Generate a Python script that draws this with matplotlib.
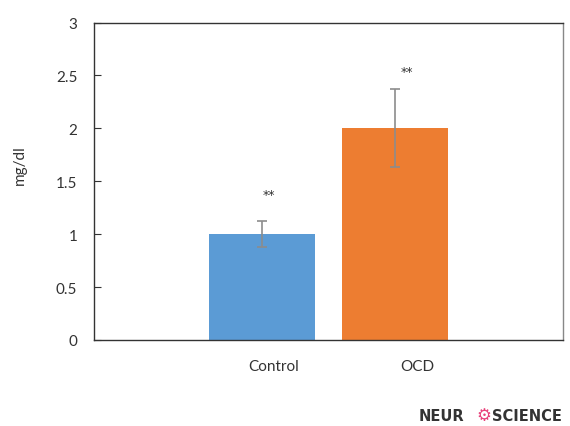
import matplotlib.pyplot as plt

groups = ['Control', 'OCD']
means = [1.0, 2.0]
errors = [0.12, 0.37]
stars = ['**', '**']
star_heights = [1.41, 2.57]
colors = ['#5B9BD5', '#ED7D31']

plt.rcParams['font.family'] = ['Lato', 'DejaVu Sans']

fig = plt.figure(figsize=(5.7, 4.27), dpi=100)
ax = fig.add_axes([94 / 570, 1 - 341 / 427, 469 / 570, 317.5 / 427])

pos = list(range(len(groups)))
ax.bar(pos, means, width=0.8, color=colors, zorder=2)
ax.errorbar(pos, means, yerr=errors, fmt='none', ecolor='#8c8c8c',
            elinewidth=1.2, capsize=3.5, capthick=1.2, zorder=3)
for i, s in enumerate(stars):
    ax.text(pos[i] + 0.05 + 0.04 * i, star_heights[i] - 0.068, s, ha='center',
            va='baseline', fontsize=9, color='#333333', family='DejaVu Sans')

ax.set_xlim(-1.263, 2.263)
ax.set_ylim(0, 3)
ax.set_yticks([0, 0.5, 1, 1.5, 2, 2.5, 3])
ax.set_yticklabels(['0', '0.5', '1', '1.5', '2', '2.5', '3'])
ax.set_xticks([p + 0.09 + 0.075 * i for i, p in enumerate(pos)])
ax.set_xticklabels(groups)
ax.tick_params(axis='x', length=0, pad=14, labelsize=11, labelcolor='#333333')
ax.tick_params(axis='y', direction='in', length=5, width=0.8, pad=12,
               labelsize=11, labelcolor='#333333', color='#333333')
ax.spines['left'].set_color('#333333')
ax.spines['bottom'].set_color('#333333')
ax.spines['top'].set_color('#333333')
ax.spines['right'].set_color('#888888')
for sp in ax.spines.values():
    sp.set_linewidth(1.0)
ax.set_ylabel('mg/dl', fontsize=11, color='#333333')
ax.yaxis.set_label_coords(-67 / 469, (341 - 165) / 317.5)

fig.text(419 / 570, 1 - 417 / 427, 'NEUR', fontsize=10.5, fontweight='heavy',
         color='#333333', va='center', ha='left', family='DejaVu Sans')
fig.text(476 / 570, 1 - 416 / 427, '\u2699', fontsize=12, color='#e8417a',
         va='center', ha='left', family='DejaVu Sans')
fig.text(492 / 570, 1 - 417 / 427, 'SCIENCE', fontsize=10.5, fontweight='heavy',
         color='#333333', va='center', ha='left', family='DejaVu Sans')

fig.savefig('out.png', dpi=100)
